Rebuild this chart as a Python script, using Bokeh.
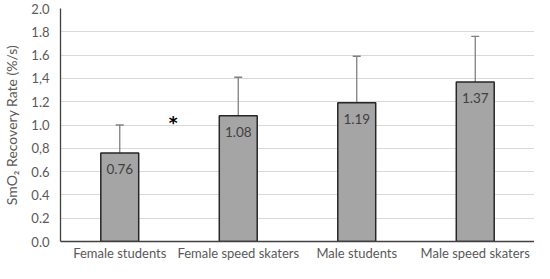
from bokeh.plotting import figure
from bokeh.models import ColumnDataSource, Whisker, FixedTicker, TeeHead, CustomJSTickFormatter
from bokeh.transform import dodge
from bokeh.core.properties import value
from bokeh.embed import file_html
from bokeh.resources import INLINE

categories = ["Female students", "Female speed skaters", "Male students", "Male speed skaters"]
means = [0.76, 1.08, 1.19, 1.37]
sds = [0.24, 0.33, 0.40, 0.39]
mean_labels = ["0.76", "1.08", "1.19", "1.37"]
y_ticks = [0.0, 0.2, 0.4, 0.6, 0.8, 1.0, 1.2, 1.4, 1.6, 1.8, 2.0]
y_tick_labels = ["0.0", "0.2", "0.4", "0.6", "0,8", "1.0", "1.2", "1,4", "1.6", "1.8", "2.0"]
sig_category = ["Female students"]
sig_y = [1.06]

FONT = "Lato"
TXT = "#595959"

upper = [m + s for m, s in zip(means, sds)]
src = ColumnDataSource(dict(x=categories, top=means, upper=upper, lab=mean_labels))

p = figure(x_range=categories, y_range=(0, 2.0), width=534, height=263,
           output_backend="svg", toolbar_location=None,
           min_border_left=57, min_border_right=0, min_border_top=8, min_border_bottom=10)
p.outline_line_color = None
p.background_fill_color = "white"

p.vbar(x="x", top="top", width=0.32, source=src, fill_color="#a5a5a5",
       line_color="#262626", line_width=1.5)

w = Whisker(base="x", lower="top", upper="upper", source=src,
            line_color="#808080", line_width=1.3,
            upper_head=TeeHead(size=8, line_color="#808080", line_width=1.3),
            lower_head=None)
p.add_layout(w)

p.text(x="x", y="top", text="lab", source=src, text_align="center",
       text_baseline="middle", y_offset=16, text_font=value(FONT),
       text_font_size="13.5px", text_color="#404040")

sig_src = ColumnDataSource(dict(x=sig_category, y=sig_y, t=["*"]))
p.text(x=dodge("x", 0.45, range=p.x_range), y="y", text="t", source=sig_src,
       text_align="center", text_baseline="middle", y_offset=5,
       text_font=value("DejaVu Sans"),
       text_font_size="17px", text_font_style="bold", text_color="#000000")

p.yaxis.ticker = FixedTicker(ticks=y_ticks)
p.yaxis.formatter = CustomJSTickFormatter(args=dict(tvals=y_ticks, tlabels=y_tick_labels), code="""
let best = 0, d = Infinity;
for (let i = 0; i < tvals.length; i++) {
  const e = Math.abs(tvals[i] - tick);
  if (e < d) { d = e; best = i; }
}
return tlabels[best];
""")
p.yaxis.axis_label = "SmO₂ Recovery Rate (%/s)"
p.yaxis.axis_label_text_font = FONT
p.yaxis.axis_label_text_font_style = "normal"
p.yaxis.axis_label_text_font_size = "14px"
p.yaxis.axis_label_text_color = TXT
p.yaxis.axis_label_standoff = 8
p.yaxis.major_label_standoff = 11

for ax in (p.xaxis, p.yaxis):
    ax.major_label_text_font = FONT
    ax.major_label_text_font_size = "13px"
    ax.major_label_text_color = TXT
    ax.major_tick_line_color = None
    ax.minor_tick_line_color = None
    ax.major_tick_out = 0
    ax.major_tick_in = 0
    ax.minor_tick_out = 0
    ax.minor_tick_in = 0
    ax.axis_line_color = "#404040"
    ax.axis_line_width = 1.3
p.xaxis.major_label_standoff = 3

p.xgrid.grid_line_color = None
p.ygrid.grid_line_color = "#d9d9d9"
p.ygrid.grid_line_width = 1

open("out.html", "w").write(file_html(p, INLINE))
